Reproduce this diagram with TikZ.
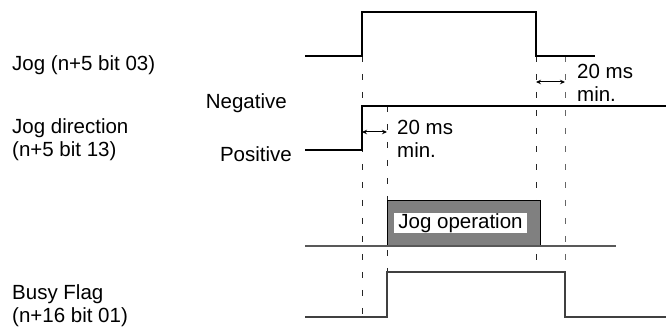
\documentclass[tikz,border=0pt]{standalone}
\usepackage{fontspec}
\setmainfont{Liberation Sans}
\usepackage{tikz}
\usetikzlibrary{arrows.meta}

\begin{document}
\begin{tikzpicture}[
  x=1pt, y=-1pt,
  font=\fontsize{20.5pt}{23pt}\selectfont,
  sig/.style={black, line width=1.2pt},
  sigsoft/.style={black!75, line width=1.4pt},
  guide/.style={black!85, line width=1pt, dash pattern=on 6pt off 12pt},
  gap/.style={{Stealth[length=5pt,width=4.5pt]}-{Stealth[length=5pt,width=4.5pt]}, line width=1pt},
  lbl/.style={inner sep=0pt, anchor=base west, align=left}
]
\useasboundingbox (0,0) rectangle (666,328);
% instants and levels
\coordinate (t0) at (305,0);
\coordinate (t1) at (362,0);
\coordinate (t2) at (387,0);
\coordinate (t3) at (536,0);
\coordinate (t4) at (565,0);
\coordinate (jh) at (0,12);
\coordinate (jl) at (0,56);
\coordinate (dn) at (0,106);
\coordinate (dp) at (0,150);
\coordinate (ax) at (0,246);
\coordinate (bh) at (0,272);
\coordinate (bl) at (0,317);

% signal names (base = last line)
\node[lbl] (jog) at (12,71) {Jog (n+5 bit 03)};
\node[lbl] (dir) at (12,157) {Jog direction\\(n+5 bit 13)};
\node[lbl] (busy) at (12,323) {Busy Flag\\(n+16 bit 01)};
\node[lbl, anchor=base east] (neg) at (287,109) {Negative};
\node[lbl, anchor=base east] (pos) at (292,162) {Positive};

% guides
\draw[guide] (t1 |- jl) -- (t1 |- bl);
\draw[guide] (t2 |- dn) -- (t2 |- bh);
\draw[guide] (t3 |- jl) -- (t3 |- bh);
\draw[guide, black!60] (t4 |- jl) -- (t4 |- bh);

% waveforms
\draw[sig] (t0 |- jl) -- (t1 |- jl) -- (t1 |- jh) -- (t3 |- jh) -- (t3 |- jl) -- (595,56);
\draw[sig] (t0 |- dp) -- (t1 |- dp) -- (t1 |- dn) -- (666,106);
\draw[sigsoft] (t0 |- bl) -- (t2 |- bl) -- (t2 |- bh) -- (t4 |- bh) -- (t4 |- bl) -- (666,317);

% operation
\draw[black, line width=1pt, fill=black!50] (t2 |- 0,201) rectangle (540,246);
\draw[black!65, line width=1.4pt] (t0 |- ax) -- (616,246);
\node[fill=white, inner sep=0pt, minimum width=133pt, minimum height=20pt] (op) at (460.5,223) {Jog operation};

% 20 ms gaps
\coordinate (ga) at (0,132);
\coordinate (gb) at (0,82);
\draw[gap] (t1 |- ga) -- (t2 |- ga);
\draw[gap] (t3 |- gb) -- (t4 |- gb);
\node[lbl] (gapa) at (397,158) {20 ms\\min.};
\node[lbl] (gapb) at (577,102) {20 ms\\min.};
\end{tikzpicture}
\end{document}
